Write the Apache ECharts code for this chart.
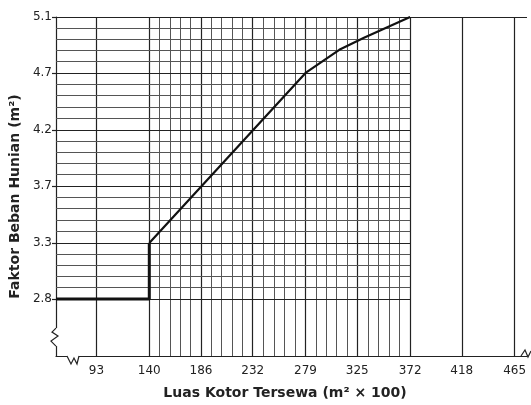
<!DOCTYPE html>
<html><head><meta charset="utf-8">
<script src="https://cdn.jsdelivr.net/npm/echarts@6/dist/echarts.min.js"></script>
<style>html,body{margin:0;padding:0;background:#fff}#c{width:531px;height:405px}</style>
</head><body><div id="c"></div>
<script>
// ---- data ----
const xTicks = [93, 140, 186, 232, 279, 325, 372, 418, 465];
const xTickLabels = ['93', '140', '186', '232', '279', '325', '372', '418', '465'];
const yTicks = [2.79, 3.25, 3.72, 4.18, 4.65, 5.11];
const yTickLabels = ['2.8', '3.3', '3.7', '4.2', '4.7', '5.1'];
const xRange = [57, 476];
const yRange = [2.32, 5.11];
const stepX = [57, 140, 140];
const stepY = [2.79, 2.79, 3.25];
const rampX = [140, 279, 309, 331, 372];
const rampY = [3.25, 4.65, 4.84, 4.94, 5.11];
const fineFrom = 140, fineTo = 372, subdivisions = 5;

// ---- grid lines built from ticks ----
const major = { color: '#222', width: 1.2, type: 'solid' };
const fine = { color: '#555', width: 1, type: 'solid' };
const lines = [];
xTicks.forEach(v => lines.push({ xAxis: v, lineStyle: major }));
for (let i = 0; i < xTicks.length - 1; i++) {
  const a = xTicks[i], b = xTicks[i + 1];
  if (a < fineFrom || b > fineTo) continue;
  for (let k = 1; k < subdivisions; k++) lines.push({ xAxis: a + (b - a) * k / subdivisions, lineStyle: fine });
}
yTicks.forEach((v, i) => {
  const end = i === yTicks.length - 1 ? xRange[1] : fineTo;
  lines.push([{ coord: [xRange[0], v], lineStyle: major }, { coord: [end, v] }]);
});
for (let i = 0; i < yTicks.length - 1; i++) {
  const a = yTicks[i], b = yTicks[i + 1];
  for (let k = 1; k < subdivisions; k++) {
    const v = a + (b - a) * k / subdivisions;
    lines.push([{ coord: [xRange[0], v], lineStyle: fine }, { coord: [fineTo, v] }]);
  }
}

const lookup = (ticks, labels) => v => {
  let best = 0;
  ticks.forEach((t, i) => { if (Math.abs(t - v) < Math.abs(ticks[best] - v)) best = i; });
  return labels[best];
};

const chart = echarts.init(document.getElementById('c'), null, { renderer: 'canvas' });
const font = '"DejaVu Sans", sans-serif';
chart.setOption({
  animation: false,
  backgroundColor: '#fff',
  grid: { left: 54, right: 4, top: 17, bottom: 49, containLabel: false },
  xAxis: {
    type: 'value', min: xRange[0], max: xRange[1],
    name: 'Luas Kotor Tersewa (m² × 100)', nameLocation: 'middle', nameGap: 30,
    nameTextStyle: { fontFamily: font, fontWeight: 'bold', fontSize: 14, color: '#222', padding: [0, 13, 0, 0] },
    axisLine: { show: true, lineStyle: { color: '#222', width: 1.2 } },
    axisTick: { show: false },
    splitLine: { show: false },
    axisLabel: { customValues: xTicks, formatter: lookup(xTicks, xTickLabels), fontFamily: font, fontSize: 12, color: '#222', margin: 9 }
  },
  yAxis: {
    type: 'value', min: yRange[0], max: yRange[1],
    name: 'Faktor Beban Hunian (m²)', nameLocation: 'middle', nameGap: 33,
    nameTextStyle: { fontFamily: font, fontWeight: 'bold', fontSize: 14, color: '#222', padding: [0, 20, 0, 0] },
    axisLine: { show: true, lineStyle: { color: '#222', width: 1.2 } },
    axisTick: { show: true, customValues: yTicks, length: 4, lineStyle: { color: '#222', width: 1.2 } },
    splitLine: { show: false },
    axisLabel: { customValues: yTicks, formatter: lookup(yTicks, yTickLabels), fontFamily: font, fontSize: 12, color: '#222', margin: 4 }
  },
  series: [
    {
      type: 'line', data: [], z: 1, silent: true,
      markLine: { silent: true, symbol: ['none', 'none'], label: { show: false }, animation: false, data: lines }
    },
    {
      type: 'line', z: 5, symbol: 'none', silent: true,
      data: stepX.map((x, i) => [x, stepY[i]]),
      lineStyle: { color: '#111', width: 3 }
    },
    {
      type: 'line', z: 5, symbol: 'none', silent: true,
      data: rampX.map((x, i) => [x, rampY[i]]),
      lineStyle: { color: '#111', width: 2.2 }
    }
  ]
});

// axis-break squiggles, anchored to the axes
const o = chart.convertToPixel({ gridIndex: 0 }, [xRange[0], yRange[0]]);
const e = chart.convertToPixel({ gridIndex: 0 }, [xRange[1], yRange[0]]);
const yb = chart.convertToPixel({ gridIndex: 0 }, [xRange[0], 2.55]);
const sq = (pts) => ({ type: 'polyline', shape: { points: pts }, style: { stroke: '#222', lineWidth: 1.2, fill: null }, z: 100 });
chart.setOption({
  graphic: [
    { type: 'rect', shape: { x: o[0] - 2, y: yb[1], width: 4, height: 18 }, style: { fill: '#fff' }, z: 99 },
    sq([[o[0], yb[1]], [o[0] - 4, yb[1] + 4], [o[0] + 2, yb[1] + 8], [o[0] - 5, yb[1] + 13], [o[0], yb[1] + 18]]),
    { type: 'rect', shape: { x: o[0] + 11, y: o[1] - 2, width: 12, height: 4 }, style: { fill: '#fff' }, z: 99 },
    sq([[o[0] + 11, o[1]], [o[0] + 15, o[1] + 8], [o[0] + 18, o[1] + 2], [o[0] + 21, o[1] + 8], [o[0] + 23, o[1]]]),
    sq([[e[0] - 6, o[1]], [e[0] - 2, o[1] - 6], [e[0] + 1, o[1] + 1], [e[0] + 4, o[1] - 5]])
  ]
});
</script></body></html>
